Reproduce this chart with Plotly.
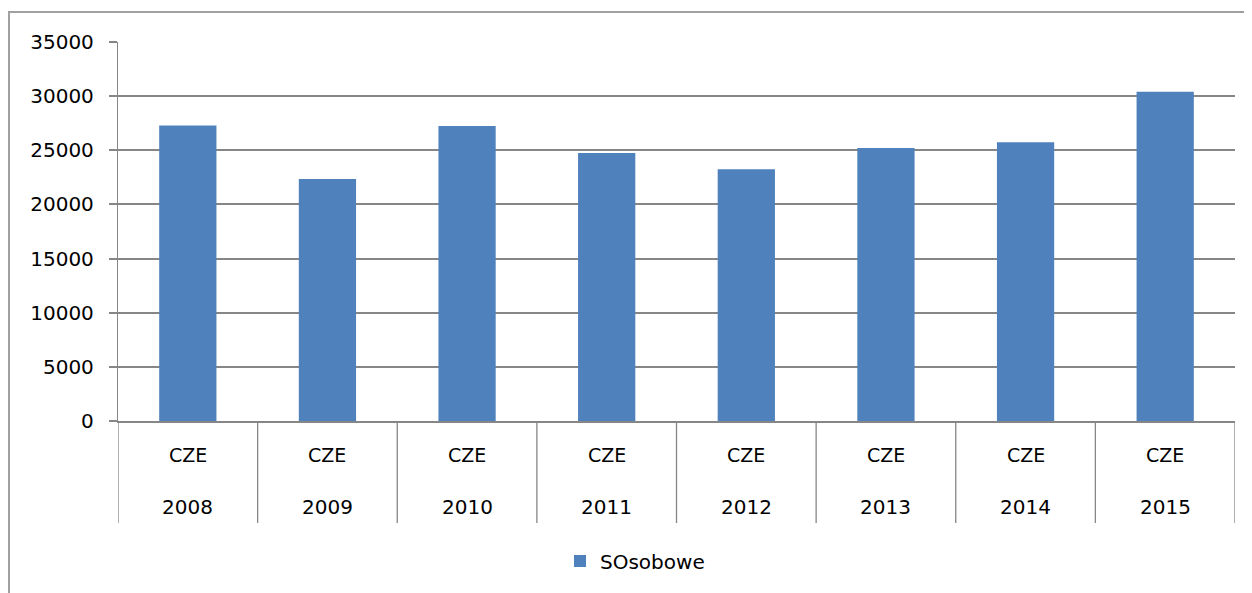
import plotly.graph_objects as go

years = ["2008", "2009", "2010", "2011", "2012", "2013", "2014", "2015"]
country = ["CZE"] * 8
values = [27300, 22350, 27250, 24750, 23250, 25200, 25750, 30400]
series_name = "SOsobowe"
y_ticks = [0, 5000, 10000, 15000, 20000, 25000, 30000, 35000]

# page offset (body margin) compensation
OFF = 8
W, H = 1252 - OFF, 593 - OFF
L, R, T, B = 118 - OFF, 1235 - OFF, 42 - OFF, 421 - OFF
FONT = "DejaVu Sans"
GRID = "#868686"

def px_x(p):
    return (p - OFF - L) / (R - L)

def px_y(p):
    return (B - (p - OFF)) / (B - T)

fig = go.Figure()
fig.add_trace(go.Bar(
    x=list(range(len(years))), y=values, name=series_name,
    marker=dict(color="#4F81BD", line=dict(width=0)),
    width=0.41,
))

shapes = []
for i in range(len(years) + 1):
    shapes.append(dict(type="line", xref="x", yref="paper",
                       x0=i - 0.5, x1=i - 0.5, y0=0, y1=px_y(523),
                       line=dict(color=GRID, width=1.3)))
shapes.append(dict(type="line", xref="paper", yref="paper",
                   x0=px_x(9), x1=px_x(9), y0=px_y(12), y1=px_y(610),
                   line=dict(color="#A0A0A0", width=2)))
shapes.append(dict(type="line", xref="paper", yref="paper",
                   x0=px_x(8), x1=px_x(1270), y0=px_y(12), y1=px_y(12),
                   line=dict(color="#A0A0A0", width=2)))

annotations = []
for i, (c, yv) in enumerate(zip(country, years)):
    annotations.append(dict(x=i, y=px_y(455), xref="x", yref="paper", text=c,
                            showarrow=False, font=dict(family=FONT, size=19, color="#000"),
                            xanchor="center", yanchor="middle"))
    annotations.append(dict(x=i, y=px_y(507), xref="x", yref="paper", text=yv,
                            showarrow=False, font=dict(family=FONT, size=20, color="#000"),
                            xanchor="center", yanchor="middle"))

fig.update_layout(
    width=W, height=H,
    margin=dict(l=L, r=W - R, t=T, b=H - B, pad=0),
    paper_bgcolor="white", plot_bgcolor="white",
    showlegend=True,
    legend=dict(orientation="h", x=px_x(560), y=px_y(561), xanchor="left", yanchor="middle",
                font=dict(family=FONT, size=20, color="#000"), itemwidth=30,
                bgcolor="rgba(0,0,0,0)"),
    xaxis=dict(range=[-0.5, len(years) - 0.5], showticklabels=False, showgrid=False,
               showline=True, linecolor=GRID, linewidth=1.5, ticks="", zeroline=False,
               fixedrange=True),
    yaxis=dict(range=[0, 35000], tickvals=y_ticks, ticktext=[str(v) for v in y_ticks],
               showgrid=True, gridcolor=GRID, gridwidth=1.5,
               showline=True, linecolor=GRID, linewidth=1.3,
               ticks="outside", ticklen=8, tickcolor=GRID, tickwidth=1.5,
               ticklabelstandoff=11,
               tickfont=dict(family=FONT, size=20, color="#000"),
               zeroline=False, automargin=False),
    shapes=shapes, annotations=annotations,
    font=dict(family=FONT),
)

fig.write_html("out.html")
